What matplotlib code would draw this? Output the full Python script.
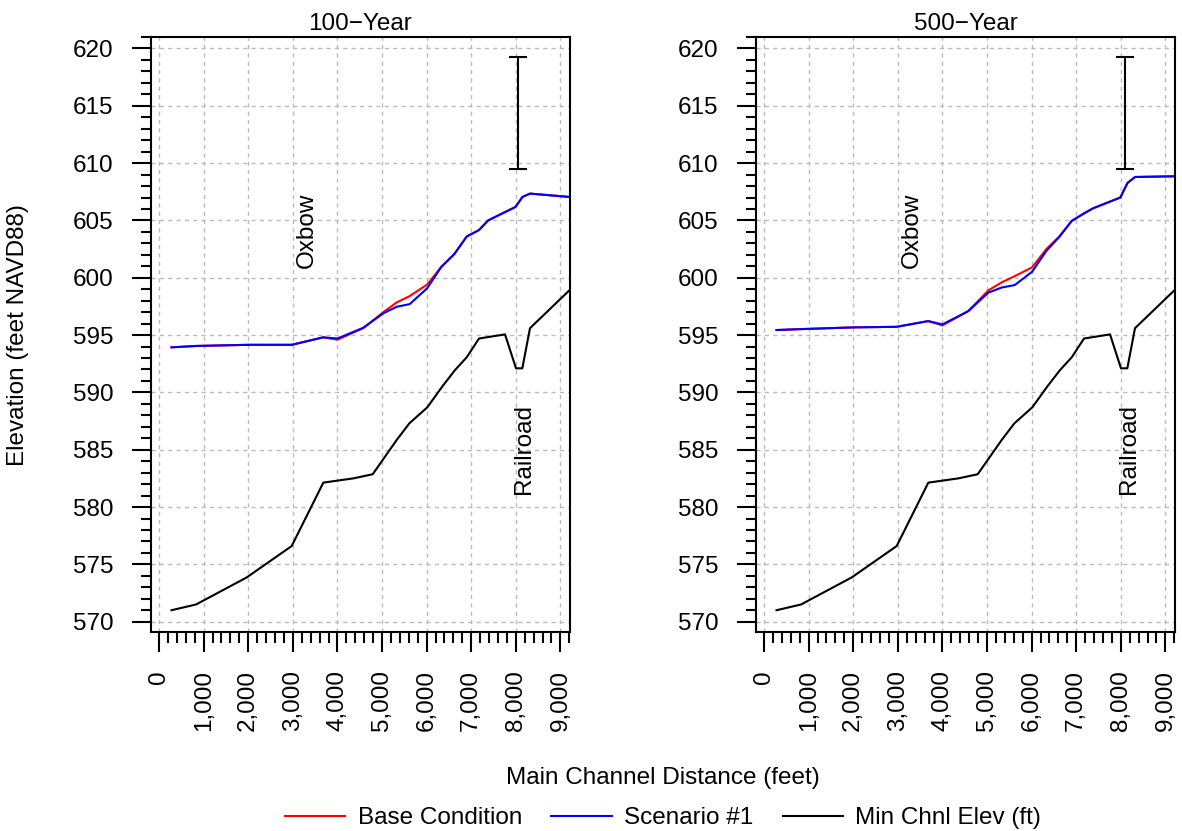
import numpy as np
import matplotlib
matplotlib.use("Agg")
import matplotlib.pyplot as plt
from matplotlib.ticker import FuncFormatter, MultipleLocator

plt.rcParams['font.family'] = ['Liberation Sans', 'DejaVu Sans']

# water surface stations (ft)
ws_station = [280, 830, 2000, 2975, 3680, 4000, 4580, 5030, 5330, 5620, 6010,
              6330, 6620, 6900, 7170, 7380, 7990, 8150, 8320, 9200]

# 100-year profiles
base_100 = [593.93, 594.05, 594.15, 594.15, 594.8, 594.6, 595.6, 597.0, 597.85,
            598.4, 599.4, 600.95, 602.06, 603.6, 604.15, 605.0, 606.17, 607.05,
            607.34, 607.05]
scen_100 = [593.93, 594.05, 594.15, 594.15, 594.8, 594.7, 595.64, 596.9, 597.47,
            597.7, 599.07, 600.95, 602.06, 603.6, 604.15, 605.0, 606.17, 607.05,
            607.34, 607.05]

# 500-year profiles
base_500 = [595.44, 595.52, 595.67, 595.72, 596.22, 595.84, 597.09, 598.9, 599.6,
            600.14, 600.9, 602.5, 603.6, 604.96, 605.6, 606.06, 607.0, 608.27,
            608.79, 608.85]
scen_500 = [595.44, 595.52, 595.67, 595.72, 596.22, 595.93, 597.09, 598.7, 599.15,
            599.36, 600.52, 602.34, 603.56, 604.96, 605.6, 606.06, 607.0, 608.27,
            608.79, 608.85]

# minimum channel elevation
ch_station = [280, 830, 1966, 2975, 3684, 4357, 4791, 5329, 5613, 6016, 6360,
              6637, 6899, 7175, 7758, 8004, 8146, 8318, 9200]
ch_elev = [571.0, 571.5, 573.86, 576.6, 582.13, 582.5, 582.86, 585.85, 587.3,
           588.7, 590.56, 591.95, 593.06, 594.7, 595.06, 592.1, 592.1, 595.6, 598.9]

titles = ["100\u2212Year", "500\u2212Year"]
bar_x = [8060, 8100]
bar_lo, bar_hi = 609.46, 619.24
oxbow_x, oxbow_y = 3310, 604.15
rail_x, rail_y = 8175, 585.1

W, H = 1182, 831
fig = plt.figure(figsize=(W / 100, H / 100), dpi=100)

lefts = [151, 756]
profiles = [(base_100, scen_100), (base_500, scen_500)]
fs = 17.5

for i in range(2):
    ax = fig.add_axes([lefts[i] / W, 1 - 632 / H, 419 / W, 595 / H])
    base, scen = profiles[i]
    l1, = ax.plot(ws_station, base, color='red', lw=1.5, label='Base Condition')
    l2, = ax.plot(ws_station, scen, color='blue', lw=1.5, label='Scenario #1')
    l3, = ax.plot(ch_station, ch_elev, color='black', lw=1.5, label='Min Chnl Elev (ft)')

    ax.errorbar([bar_x[i]], [(bar_lo + bar_hi) / 2], yerr=[(bar_hi - bar_lo) / 2],
                color='black', lw=1.5, capsize=6.3, capthick=1.5, fmt='none')

    ax.text(oxbow_x, oxbow_y, "Oxbow", rotation=90, ha='center', va='center', fontsize=fs)
    ax.text(rail_x, rail_y, "Railroad", rotation=90, ha='center', va='center', fontsize=fs)

    ax.set_xlim(-180, 9215)
    ax.set_ylim(569.1, 621.0)
    ax.xaxis.set_major_locator(MultipleLocator(1000))
    ax.xaxis.set_minor_locator(MultipleLocator(200))
    ax.yaxis.set_major_locator(MultipleLocator(5))
    ax.yaxis.set_minor_locator(MultipleLocator(1))
    ax.xaxis.set_major_formatter(FuncFormatter(lambda v, p: f"{int(v):,}"))

    ax.tick_params(axis='x', which='major', length=14.5, width=1.5, pad=13,
                   labelsize=fs, labelrotation=90)
    ax.tick_params(axis='x', which='minor', length=8, width=1.5)
    ax.tick_params(axis='y', which='major', length=14, width=1.5, pad=13, labelsize=fs)
    ax.tick_params(axis='y', which='minor', length=7, width=1.5)

    ax.grid(True, which='major', color='#bbbbbb', linestyle=(0, (3, 3)), lw=1)
    for s in ax.spines.values():
        s.set_linewidth(1.5)
    ax.set_title(titles[i], fontsize=fs, pad=5)

fig.text(18 / W, 1 - 335 / H, "Elevation (feet NAVD88)", rotation=90,
         ha='center', va='center', fontsize=fs)
fig.text(663 / W, 1 - 778 / H, "Main Channel Distance (feet)",
         ha='center', va='center', fontsize=fs)
fig.legend([l1, l2, l3], [l1.get_label(), l2.get_label(), l3.get_label()],
           loc='center', bbox_to_anchor=(663 / W, 1 - 818 / H), ncol=3,
           frameon=False, fontsize=fs, handlelength=2.5, handletextpad=0.5,
           columnspacing=1.2)

fig.savefig("out.png", dpi=100)
